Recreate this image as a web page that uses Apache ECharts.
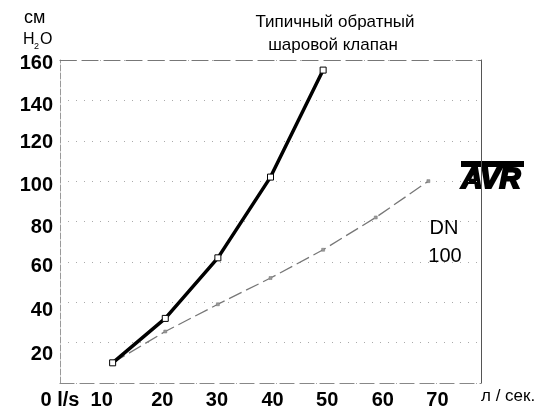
<!DOCTYPE html>
<html>
<head>
<meta charset="utf-8">
<script src="https://cdn.jsdelivr.net/npm/echarts@6/dist/echarts.min.js"></script>
<style>
html,body{margin:0;padding:0;background:#fff;}
#c{width:552px;height:410px;}
</style>
</head>
<body>
<div id="c"></div>
<script>
// Data
var flowRates = [10, 20, 30, 40, 50, 60, 70];           // л / сек.
var ballValve = [10, 32, 62, 102, 155];                 // black line, cm H2O
var dn100 = [10, 25.5, 39, 52, 66, 82, 100];            // grey dashed line, cm H2O
var xTickLabels = {0: '0 l/s', 10: '10', 20: '20', 30: '30', 40: '40', 50: '50', 60: '60', 70: '70', 80: ''};
var titleLines = ['Типичный обратный', 'шаровой клапан'];

var FONT = '"Liberation Sans", Arial, sans-serif';

// label nudges (pixels) to mimic the scanned original's label placement
var xNudge = {0: 0, 10: -11, 20: -3, 30: -1, 40: 2, 50: 4, 60: 7, 70: 9, 80: 0};
var yNudge = {20: 12, 40: 8, 60: 5, 80: 6, 100: 4, 120: 2, 140: 5, 160: 3};

function pairs(xs, ys) {
  return ys.map(function (y, i) { return [xs[i], y]; });
}

var xRich = {}, yRich = {};
Object.keys(xNudge).forEach(function (k) {
  var d = xNudge[k];
  xRich['x' + k] = {fontSize: 20, fontWeight: 'bold', color: '#000', fontFamily: FONT,
    padding: d < 0 ? [0, -2 * d, 0, 0] : [0, 0, 0, 2 * d]};
});
Object.keys(yNudge).forEach(function (k) {
  var d = yNudge[k];
  yRich['y' + k] = {fontSize: 20, fontWeight: 'bold', color: '#000', fontFamily: FONT,
    padding: [2 * d, 0, 0, 0]};
});

var chart = echarts.init(document.getElementById('c'), null, {renderer: 'canvas'});
chart.setOption({
  backgroundColor: '#fff',
  animation: false,
  textStyle: {fontFamily: FONT},
  grid: {left: 60, right: 71, top: 60, bottom: 25, containLabel: false},
  xAxis: [{
    type: 'value', min: 0, max: 80, interval: 10, position: 'bottom',
    axisLine: {show: true, onZero: false, lineStyle: {color: '#888', width: 1.2, type: [14, 6]}},
    axisTick: {show: false},
    splitLine: {show: false},
    axisLabel: {
      margin: 7, fontSize: 20, fontWeight: 'bold', color: '#000', fontFamily: FONT,
      rich: xRich,
      formatter: function (v) {
        var t = xTickLabels[v];
        return t ? '{x' + v + '|' + t + '}' : '';
      }
    },
    name: 'л / сек.', nameLocation: 'end', nameGap: 0,
    nameTextStyle: {fontSize: 17, color: '#000', fontFamily: FONT, align: 'left', verticalAlign: 'top', padding: [5, 0, 0, 0]}
  }, {
    type: 'value', min: 0, max: 80, interval: 10, position: 'top',
    axisLine: {show: true, onZero: false, lineStyle: {color: '#777', width: 1.2, type: [16, 6]}},
    axisTick: {show: false}, axisLabel: {show: false}, splitLine: {show: false}
  }],
  yAxis: [{
    type: 'value', min: 0, max: 160, interval: 20, position: 'left',
    axisLine: {show: true, onZero: false, lineStyle: {color: '#999', width: 1, type: [6, 2]}},
    axisTick: {show: false},
    splitLine: {show: true, lineStyle: {color: '#aaa', width: 1, type: [1, 7]}},
    axisLabel: {
      margin: 7, fontSize: 20, fontWeight: 'bold', color: '#000', fontFamily: FONT,
      rich: yRich,
      formatter: function (v) { return v === 0 ? '' : '{y' + v + '|' + v + '}'; }
    }
  }, {
    type: 'value', min: 0, max: 160, interval: 20, position: 'right',
    axisLine: {show: true, onZero: false, lineStyle: {color: '#555', width: 1}},
    axisTick: {show: false}, axisLabel: {show: false}, splitLine: {show: false}
  }],
  series: [{
    name: 'DN 100', type: 'line', xAxisIndex: 0, yAxisIndex: 0,
    data: pairs(flowRates, dn100),
    symbol: 'rect', symbolSize: 3,
    lineStyle: {color: '#777', width: 1.3, type: [14, 5]},
    itemStyle: {color: '#999', borderColor: '#777', borderWidth: 0.5},
    z: 2
  }, {
    name: 'ball', type: 'line', xAxisIndex: 0, yAxisIndex: 0,
    data: pairs(flowRates, ballValve),
    symbol: 'rect', symbolSize: 6,
    lineStyle: {color: '#000', width: 3.5},
    itemStyle: {color: '#fff', borderColor: '#000', borderWidth: 1},
    z: 3
  }],
  graphic: [
    {type: 'text', left: 24, top: 9, style: {text: 'см', font: '18px ' + FONT, fill: '#000'}},
    {type: 'text', left: 23, top: 32, style: {text: 'H', font: '16px ' + FONT, fill: '#000'}},
    {type: 'text', left: 34, top: 42, style: {text: '2', font: '9px ' + FONT, fill: '#000'}},
    {type: 'text', left: 40, top: 32, style: {text: 'O', font: '16px ' + FONT, fill: '#000'}},
    {type: 'text', x: 335, y: 22, style: {text: titleLines[0], font: '17px ' + FONT, fill: '#000', align: 'center', verticalAlign: 'middle'}},
    {type: 'text', x: 333, y: 45, style: {text: titleLines[1], font: '17px ' + FONT, fill: '#000', align: 'center', verticalAlign: 'middle'}},
    {type: 'text', x: 444, y: 228, style: {text: 'DN', font: '20px ' + FONT, fill: '#000', align: 'center', verticalAlign: 'middle'}},
    {type: 'text', x: 445, y: 256, style: {text: '100', font: '20px ' + FONT, fill: '#000', align: 'center', verticalAlign: 'middle'}},
    {type: 'rect', shape: {x: 461, y: 161, width: 63, height: 6}, style: {fill: '#000'}},
    {type: 'text', x: 491, y: 180, style: {text: 'AVR', font: 'italic bold 29px ' + FONT, fill: '#000', stroke: '#000', lineWidth: 2.2, align: 'center', verticalAlign: 'middle'}}
  ]
});
</script>
</body>
</html>
